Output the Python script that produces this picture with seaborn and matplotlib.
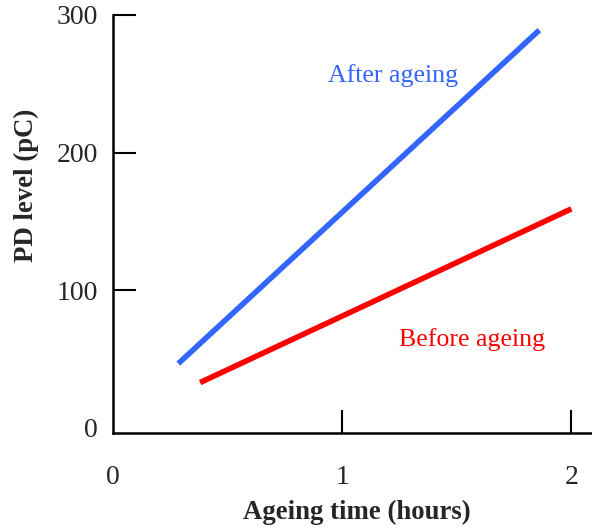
import matplotlib
matplotlib.use("Agg")
import matplotlib.pyplot as plt
import pandas as pd
import seaborn as sns

# Data
after_time = [0.285, 1.86]
after_pd = [46.5, 289]
before_time = [0.38, 2.0]
before_pd = [32.7, 159]

x_ticks = [0, 1, 2]
y_ticks = [0, 100, 200, 300]

BLUE = "#3366ff"
RED = "#ff0000"

sns.set_theme(style="white")
plt.rcParams["font.family"] = ["Liberation Serif", "DejaVu Serif"]

df = pd.concat([
    pd.DataFrame({"time": after_time, "pd": after_pd, "state": "After ageing"}),
    pd.DataFrame({"time": before_time, "pd": before_pd, "state": "Before ageing"}),
])

fig = plt.figure(figsize=(5.92, 5.28), dpi=100)
ax = fig.add_axes([0.1909, 0.1799, 0.8091, 0.7917])

sns.lineplot(data=df, x="time", y="pd", hue="state",
             palette={"After ageing": BLUE, "Before ageing": RED},
             linewidth=4, legend=False, ax=ax,
             solid_capstyle="butt")

ax.text(1.22, 256, "After ageing", color=BLUE, fontsize=18.6,
        ha="center", va="center")
ax.text(1.566, 64, "Before ageing", color=RED, fontsize=18.6,
        ha="center", va="center")

ax.set_xlim(0, 2.09)
ax.set_ylim(-4, 300)
ax.set_xticks(x_ticks)
ax.set_yticks(y_ticks)

for side in ["top", "right"]:
    ax.spines[side].set_visible(False)
for side in ["left", "bottom"]:
    ax.spines[side].set_color("black")
    ax.spines[side].set_linewidth(1.8)

ax.tick_params(axis="y", direction="in", length=16.5, width=1.5,
               color="black", labelsize=20, pad=11, left=True)
ax.tick_params(axis="x", direction="in", length=16.5, width=1.5,
               color="black", labelsize=20, pad=23, bottom=True)
# the y=0 and x=0 ticks sit on the corner, hide them
ax.yaxis.get_major_ticks()[0].tick1line.set_visible(False)
ax.xaxis.get_major_ticks()[0].tick1line.set_visible(False)

ax.set_xlabel("Ageing time (hours)", fontsize=19.3, fontweight="bold")
ax.set_ylabel("PD level (pC)", fontsize=19.3, fontweight="bold")
ax.xaxis.label.set_va("center")
ax.yaxis.label.set_va("center")
ax.xaxis.set_label_coords(0.509, -0.189)
ax.yaxis.set_label_coords(-0.18, 0.593)

fig.savefig("out.png", dpi=100)
